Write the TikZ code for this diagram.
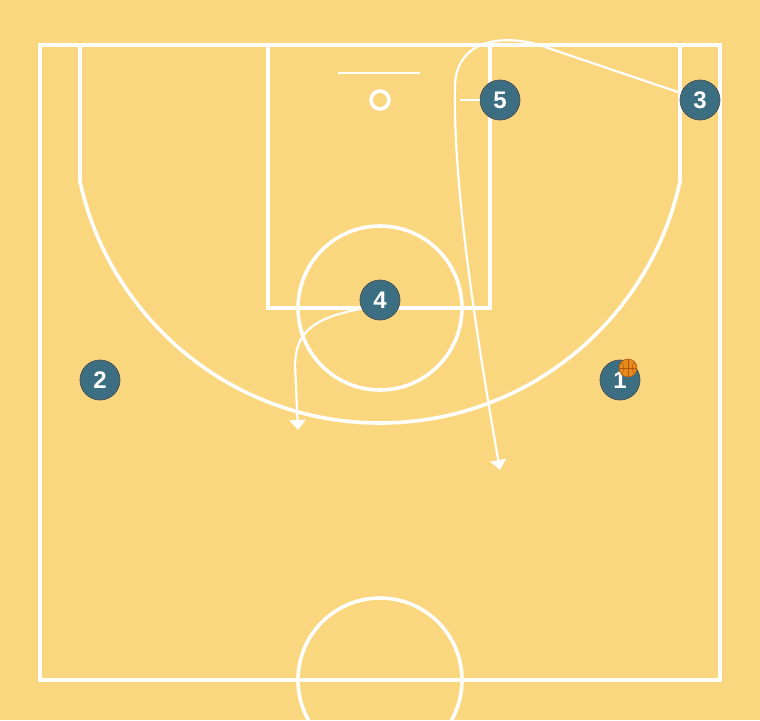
\documentclass[tikz,border=0pt]{standalone}
\usepackage{fontspec}
\setmainfont{Liberation Sans}
\usetikzlibrary{arrows.meta}
\definecolor{courtbg}{HTML}{FAD77F}
\definecolor{playerfill}{HTML}{3B6E80}
\definecolor{ballfill}{HTML}{E8891C}
\definecolor{balledge}{HTML}{B05A10}
\begin{document}
\begin{tikzpicture}[x=1pt,y=-1pt,
  courtline/.style={draw=white,line width=3.6pt},
  pathline/.style={draw=white,line width=2.2pt,-{Triangle[width=16pt,length=10pt]}},
  player/.style={circle,fill=playerfill,draw=black!70,line width=0.7pt,minimum size=40pt,inner sep=0pt,text=white,font=\fontsize{24}{24}\selectfont\bfseries}]
\useasboundingbox (0,0) rectangle (760,720);
\clip (0,0) rectangle (760,720);
\fill[courtbg] (0,0) rectangle (760,720);
% court
\draw[courtline] (40,45) rectangle (720,680);
\draw[courtline] (268,45) rectangle (490,308);
\draw[courtline] (80,45) -- (80,180);
\draw[courtline] (680,45) -- (680,180);
\begin{scope}
\clip (30,180) rectangle (730,720);
\draw[courtline] (380,116) circle (307);
\end{scope}
\draw[courtline] (380,308) circle (82);
\draw[courtline] (380,680) circle (82);
\draw[draw=white,line width=2pt] (338,73) -- (420,73);
\draw[courtline] (380,100) circle (9);
% players
\node[player] (p1) at (620,380) {1};
\node[player] (p2) at (100,380) {2};
\node[player] (p3) at (700,100) {3};
\node[player] (p4) at (380,300) {4};
\node[player] (p5) at (500,100) {5};
% ball
\node[circle,fill=ballfill,draw=balledge,line width=0.6pt,minimum size=18pt,inner sep=0pt] (ball) at (628,368) {};
\draw[balledge,line width=0.7pt] (ball.north) -- (ball.south) (ball.west) -- (ball.east);
\draw[balledge,line width=0.5pt] (ball.north west) to[bend left=35] (ball.south west);
\draw[balledge,line width=0.5pt] (ball.north east) to[bend right=35] (ball.south east);
% screen
\coordinate (s5) at (460,100);
\draw[draw=white,line width=2pt] (p5.west) -- (s5);
% movements
\coordinate (e3) at (500,470);
\draw[pathline] (p3.160) -- (545,47) .. controls (510,34) and (457,36) .. (455,85)
  .. controls (453,170) and (470,300) .. (e3);
\coordinate (e4) at (298,430);
\draw[pathline] (p4.205) .. controls (315,318) and (296,330) .. (295,365) -- (e4);
\end{tikzpicture}
\end{document}
